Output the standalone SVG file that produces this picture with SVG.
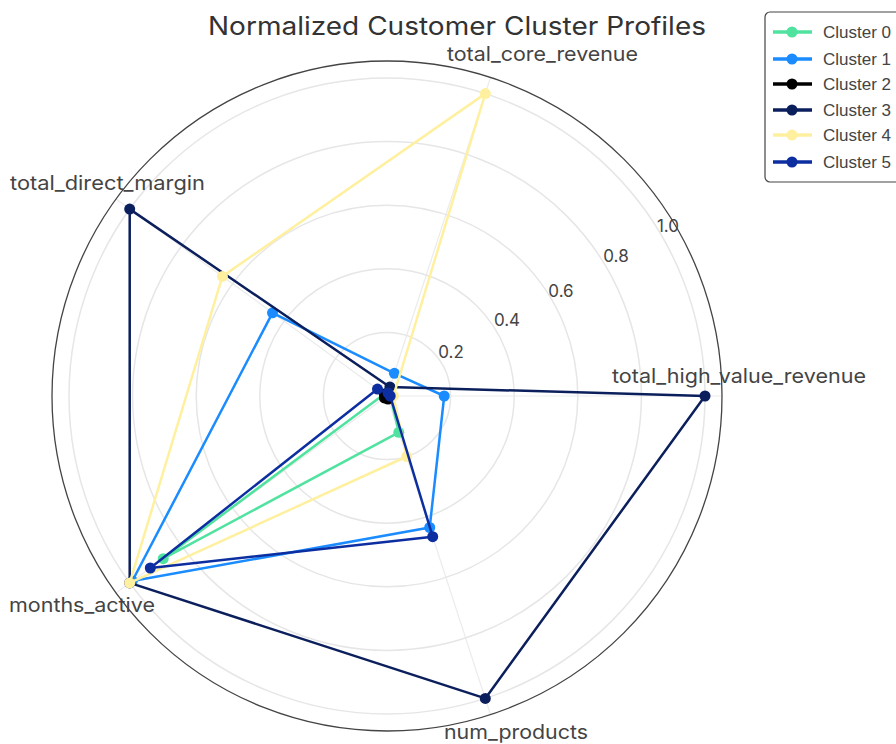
<svg xmlns="http://www.w3.org/2000/svg" width="896" height="744" viewBox="0 0 896 744">
<style>
.grid{fill:none;stroke:#e6e6e6;stroke-width:1.5}
.spoke{stroke:#ebebeb;stroke-width:1.2}
.axlab{font-family:Inter,"Noto Sans",sans-serif;font-size:20px;fill:#444}
.tick{font-family:Inter,"Noto Sans",sans-serif;font-size:17px;fill:#444;text-anchor:middle;dominant-baseline:central}
.leg{font-family:"Liberation Sans",Arial,sans-serif;font-size:17px;fill:#444;dominant-baseline:central}
.tr{fill:none;stroke-width:2.5;stroke-linejoin:round}
</style>
<rect width="896" height="744" fill="#fff"/>
<g id="polar-grid">
<line class="spoke" x1="387" y1="396" x2="722" y2="396"/>
<line class="spoke" x1="387" y1="396" x2="490.5" y2="77.4"/>
<line class="spoke" x1="387" y1="396" x2="116" y2="199.1"/>
<line class="spoke" x1="387" y1="396" x2="116" y2="592.9"/>
<line class="spoke" x1="387" y1="396" x2="490.5" y2="714.6"/>
<circle class="grid" cx="387" cy="396" r="63.6"/>
<circle class="grid" cx="387" cy="396" r="127.2"/>
<circle class="grid" cx="387" cy="396" r="190.8"/>
<circle class="grid" cx="387" cy="396" r="254.4"/>
<circle class="grid" cx="387" cy="396" r="318"/>
<circle cx="387" cy="396" r="335" fill="none" stroke="#444" stroke-width="1.3"/>
</g>
<g id="radial-ticks">
<text class="tick" x="451" y="352">0.2</text>
<text class="tick" x="507" y="320">0.4</text>
<text class="tick" x="561" y="291">0.6</text>
<text class="tick" x="616" y="256">0.8</text>
<text class="tick" x="668" y="226">1.0</text>
</g>
<g id="axis-labels">
<text class="axlab" x="447" y="61" textLength="191" lengthAdjust="spacingAndGlyphs">total_core_revenue</text>
<text class="axlab" x="10" y="190" textLength="195" lengthAdjust="spacingAndGlyphs">total_direct_margin</text>
<text class="axlab" x="612" y="383" textLength="254" lengthAdjust="spacingAndGlyphs">total_high_value_revenue</text>
<text class="axlab" x="9" y="612" textLength="146" lengthAdjust="spacingAndGlyphs">months_active</text>
<text class="axlab" x="444" y="739" textLength="144" lengthAdjust="spacingAndGlyphs">num_products</text>
</g>
<text id="title" x="457" y="35" text-anchor="middle" font-family="Inter,'Noto Sans',sans-serif" font-size="25" fill="#333" textLength="498" lengthAdjust="spacingAndGlyphs">Normalized Customer Cluster Profiles</text>
<g id="connectors">
<g id="cluster0" stroke="#50e3a0" fill="#50e3a0">
<polygon class="tr" points="390.2,396 388,393 384.4,394.1 163.2,558.7 398.8,432.3"/>
<circle cx="390.2" cy="396" r="5.5" stroke="none"/><circle cx="388" cy="393" r="5.5" stroke="none"/><circle cx="384.4" cy="394.1" r="5.5" stroke="none"/><circle cx="163.2" cy="558.7" r="5.5" stroke="none"/><circle cx="398.8" cy="432.3" r="5.5" stroke="none"/>
</g>
<g id="cluster1" stroke="#1a8cff" fill="#1a8cff">
<polygon class="tr" points="444.2,396 394.4,373.3 272.5,312.8 132.3,581 429.7,527.5"/>
<circle cx="444.2" cy="396" r="5.5" stroke="none"/><circle cx="394.4" cy="373.3" r="5.5" stroke="none"/><circle cx="272.5" cy="312.8" r="5.5" stroke="none"/><circle cx="132.3" cy="581" r="5.5" stroke="none"/><circle cx="429.7" cy="527.5" r="5.5" stroke="none"/>
</g>
<g id="cluster2" stroke="#000" fill="#000">
<polygon class="tr" points="390.2,396 388,393 384.4,394.1 384.4,397.9 388,399"/>
<circle cx="390.2" cy="396" r="5.5" stroke="none"/><circle cx="388" cy="393" r="5.5" stroke="none"/><circle cx="384.4" cy="394.1" r="5.5" stroke="none"/><circle cx="384.4" cy="397.9" r="5.5" stroke="none"/><circle cx="388" cy="399" r="5.5" stroke="none"/>
</g>
<g id="cluster3" stroke="#0b1f5c" fill="#0b1f5c">
<polygon class="tr" points="705,396 389.9,387 129.7,209.1 129.7,582.9 485.3,698.4"/>
<circle cx="705" cy="396" r="5.5" stroke="none"/><circle cx="389.9" cy="387" r="5.5" stroke="none"/><circle cx="129.7" cy="209.1" r="5.5" stroke="none"/><circle cx="129.7" cy="582.9" r="5.5" stroke="none"/><circle cx="485.3" cy="698.4" r="5.5" stroke="none"/>
</g>
<g id="cluster4" stroke="#fff0a0" fill="#fff0a0">
<polygon class="tr" points="393.4,396 485.3,93.6 222.4,276.4 129.7,582.9 406.7,456.5"/>
<circle cx="393.4" cy="396" r="5.5" stroke="none"/><circle cx="485.3" cy="93.6" r="5.5" stroke="none"/><circle cx="222.4" cy="276.4" r="5.5" stroke="none"/><circle cx="129.7" cy="582.9" r="5.5" stroke="none"/><circle cx="406.7" cy="456.5" r="5.5" stroke="none"/>
</g>
<g id="cluster5" stroke="#0d2ea0" fill="#0d2ea0">
<polygon class="tr" points="390.2,396 388,393 377.5,389.1 150.3,568 432.7,536.7"/>
<circle cx="390.2" cy="396" r="5.5" stroke="none"/><circle cx="388" cy="393" r="5.5" stroke="none"/><circle cx="377.5" cy="389.1" r="5.5" stroke="none"/><circle cx="150.3" cy="568" r="5.5" stroke="none"/><circle cx="432.7" cy="536.7" r="5.5" stroke="none"/>
</g>
</g>
<g id="legend">
<rect x="765" y="12" width="150" height="170" rx="5" fill="#fff" stroke="#444" stroke-width="1.2"/>
<g stroke-width="3.5">
<line x1="773" y1="32" x2="812" y2="32" stroke="#50e3a0"/><circle cx="792" cy="32" r="5.5" fill="#50e3a0"/>
<line x1="773" y1="59" x2="812" y2="59" stroke="#1a8cff"/><circle cx="792" cy="59" r="5.5" fill="#1a8cff"/>
<line x1="773" y1="84" x2="812" y2="84" stroke="#000"/><circle cx="792" cy="84" r="5.5" fill="#000"/>
<line x1="773" y1="110" x2="812" y2="110" stroke="#0b1f5c"/><circle cx="792" cy="110" r="5.5" fill="#0b1f5c"/>
<line x1="773" y1="135" x2="812" y2="135" stroke="#fff0a0"/><circle cx="792" cy="135" r="5.5" fill="#fff0a0"/>
<line x1="773" y1="162" x2="812" y2="162" stroke="#0d2ea0"/><circle cx="792" cy="162" r="5.5" fill="#0d2ea0"/>
</g>
<text class="leg" x="823" y="32">Cluster 0</text>
<text class="leg" x="823" y="59">Cluster 1</text>
<text class="leg" x="823" y="84">Cluster 2</text>
<text class="leg" x="823" y="110">Cluster 3</text>
<text class="leg" x="823" y="135">Cluster 4</text>
<text class="leg" x="823" y="162">Cluster 5</text>
</g>
</svg>
